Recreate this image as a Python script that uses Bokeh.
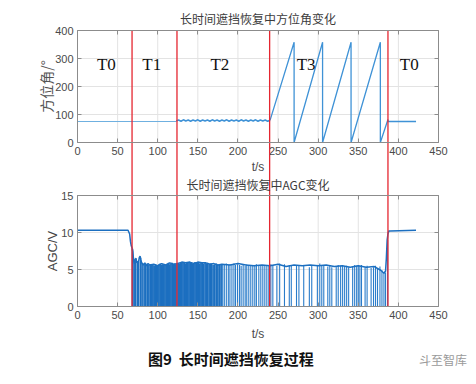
from math import pi
from bokeh.plotting import figure
from bokeh.layouts import column
from bokeh.models import Range1d, FixedTicker, LinearAxis, Div
from bokeh.embed import file_html
from bokeh.resources import INLINE
from bokeh.core.properties import value

# ---------------- data ----------------
x_ticks = [0, 50, 100, 150, 200, 250, 300, 350, 400, 450]
az_ticks = [0, 100, 200, 300, 400]
agc_ticks = [0, 5, 10, 15]

# phase boundaries (s)
red_t = [68, 124, 239.5, 387]

# phase labels
phase_lab = ["T0", "T1", "T2", "T3", "T0"]
phase_x = [36, 92.5, 177.5, 285, 413.5]
phase_y = [280, 280, 280, 280, 280]

# azimuth (deg)
az_t0 = [0, 123]
az_v0 = [75, 75]
az_t2 = [123, 126, 129, 132, 135, 138, 141, 144, 147, 150, 153, 156, 159, 162, 165, 168,
         171, 174, 177, 180, 183, 186, 189, 192, 195, 198, 201, 204, 207, 210, 213, 216,
         219, 222, 225, 228, 231, 234, 237, 240]
az_v2 = [77, 80, 76, 81, 77, 80, 76, 80, 77, 81, 76, 80, 77, 80, 76, 81,
         77, 80, 76, 80, 77, 81, 76, 80, 77, 80, 76, 81, 77, 80, 76, 80,
         77, 81, 76, 80, 77, 80, 76, 79]
az_t3 = [240, 270, 270, 305.5, 305.5, 341, 341, 377.5, 377.5, 387, 387, 422]
az_v3 = [79, 358, 0, 358, 0, 358, 0, 358, 0, 82, 75, 75]

# AGC baseline (V)
agc_pts = [(0, 10.3), (63, 10.3), (65, 9.8), (66, 8.8), (67, 8.2), (68, 7.9), (69, 7.4),
           (70, 6.2), (71, 5.8), (72, 6.4), (73, 6.5), (74, 5.9), (75, 6.1), (76, 6.0),
           (77, 6.6), (78, 6.8), (79, 6.3), (80, 5.9), (82, 5.6), (84, 5.9), (86, 5.5),
           (88, 5.8), (90, 5.6), (95, 5.7), (100, 5.5), (105, 5.8), (110, 5.6), (115, 5.9),
           (120, 5.7), (125, 5.8), (130, 6.0), (135, 5.9), (140, 6.0), (145, 5.8), (150, 6.0),
           (155, 5.9), (160, 5.9), (165, 5.7), (170, 5.8), (175, 5.6), (180, 5.7), (190, 5.6),
           (200, 5.8), (210, 5.6), (220, 5.5), (230, 5.6), (240, 5.5), (250, 5.7), (260, 5.4),
           (270, 5.6), (280, 5.5), (290, 5.6), (300, 5.5), (310, 5.6), (320, 5.4), (330, 5.5),
           (340, 5.3), (350, 5.5), (360, 5.3), (370, 5.4), (378, 4.9), (382, 4.5), (384, 4.8),
           (385, 6.5), (386, 9.0), (387, 9.8), (388, 10.2), (390, 10.2), (422, 10.3)]

# AGC drop-outs to 0 V: (time, level before drop)
spike_pts = [(68.5, 7.8), (70.5, 6.2), (72, 6.4), (74.5, 6.0), (76, 6.0), (78.5, 6.6), (80.5, 5.9),
             (83, 5.8), (85, 5.6), (87, 5.8), (89, 5.6),
             (91, 5.7), (92.5, 5.6), (94, 5.7), (95.5, 5.5), (97, 5.7), (98.5, 5.6), (100, 5.5),
             (101.5, 5.7), (103, 5.8), (104.5, 5.6), (106, 5.7), (107.5, 5.6), (109, 5.7),
             (110.5, 5.6), (112, 5.8), (113.5, 5.9), (115, 5.7), (116.5, 5.8), (118, 5.9),
             (119.5, 5.7), (121, 5.8), (122.5, 5.7), (124, 5.8),
             (125.5, 5.9), (127, 5.8), (128.5, 6.0), (130, 5.9), (131.5, 6.0), (133, 5.9),
             (134.5, 5.8), (136, 6.0), (137.5, 5.9), (139, 6.0), (140.5, 5.9), (142, 6.0),
             (143.5, 5.8), (145, 5.9), (146.5, 6.0), (148, 5.9), (149.5, 6.0), (151, 5.9),
             (152.5, 5.8), (154, 6.0), (155.5, 5.9), (157, 5.8), (159, 5.9), (160.5, 5.8),
             (162, 5.9), (164, 5.7), (165.5, 5.8), (167, 5.8), (169, 5.6), (171, 5.7),
             (173, 5.8), (175, 5.6), (177, 5.7), (179, 5.6),
             (181, 5.7), (183, 5.6), (185.5, 5.8), (188, 5.6), (190, 5.7), (192.5, 5.6),
             (195, 5.8), (197, 5.6), (199.5, 5.7), (202, 5.6), (204, 5.5), (206.5, 5.6),
             (209, 5.5), (211, 5.7), (213.5, 5.6), (216, 5.5), (218.5, 5.6), (221, 5.5),
             (223, 5.7), (226, 5.6), (228.5, 5.5), (231, 5.6), (233.5, 5.5), (236, 5.6),
             (238.5, 5.5),
             (241, 5.7), (243.5, 5.6), (248.5, 5.5), (252, 5.8), (258, 5.7), (264, 5.6),
             (266.5, 5.5), (273, 5.6), (276, 5.5), (282, 5.6), (289, 5.3), (292, 5.5),
             (299, 5.5),
             (302, 5.8), (304.5, 5.6), (307, 5.5), (312, 5.4), (314.5, 5.5),
             (317, 5.3), (322.5, 5.4), (325, 5.6), (328, 5.5), (330.5, 5.6),
             (333, 5.4), (335.5, 5.5), (338, 5.3), (343, 5.4), (345.5, 5.6),
             (348, 5.5), (350, 5.6), (352, 5.5), (354, 5.6), (358.5, 5.3),
             (361, 5.5), (366, 5.2), (369, 5.3), (371.5, 5.5), (374, 5.2),
             (377, 5.4), (379.5, 4.9), (382, 4.6), (384, 4.6), (386.5, 9.0)]

DENSE_END = 180   # drop-outs come almost continuously before this time

agc_t = [a for a, b in agc_pts]
agc_v = [b for a, b in agc_pts]
dense_t = [a for a, b in spike_pts if a < DENSE_END]
dense_top = [b for a, b in spike_pts if a < DENSE_END]
sparse_t = [a for a, b in spike_pts if a >= DENSE_END]
sparse_top = [b for a, b in spike_pts if a >= DENSE_END]

TITLE_TOP = "长时间遮挡恢复中方位角变化"
TITLE_BOTTOM = "长时间遮挡恢复中AGC变化"
YLAB_TOP = "方位角/°"
YLAB_BOTTOM = "AGC/V"
XLAB = "t/s"
CAPTION = "图9&nbsp;&nbsp;长时间遮挡恢复过程"
WATERMARK = "斗至智库"

# ---------------- layout (pixels on the canvas) ----------------
W, H = 460, 342
PX_X0, PX_X450 = 77, 438        # x = 0 s and x = 450 s
PX_AZ0, PX_AZ400 = 142, 30      # top panel y = 0 and 400
PX_AGC0, PX_AGC15 = 306, 195    # bottom panel y = 0 and 15

kx = 450 / (PX_X450 - PX_X0)
k_az = 400 / (PX_AZ0 - PX_AZ400)
k_agc = 15 / (PX_AGC0 - PX_AGC15)


def az_at(py):
    return (PX_AZ0 - py) * k_az


def agc_at(py):
    return (PX_AGC0 - py) * k_agc


def x_at(px):
    return (px - PX_X0) * kx


RED = "#e52630"
BLUE_LIGHT = "#3f92d6"
BLUE = "#1c6fc0"
AX = "#8c8c8c"
GRID = "#e3e3e3"
TXT = "#4a4a4a"
CJK = "Noto Sans CJK SC"

# One canvas holds both panels so that the phase boundaries cross the gap.
# Bottom panel uses the default y range (AGC, V); top panel uses "az".
p = figure(width=W, height=H, x_range=Range1d(x_at(0), x_at(W)),
           y_range=Range1d(agc_at(H), agc_at(0)),
           output_backend="svg", toolbar_location=None, min_border=0)
p.extra_y_ranges = {"az": Range1d(az_at(H), az_at(0))}
p.outline_line_color = None
p.xaxis.visible = False
p.yaxis.visible = False
p.xgrid.visible = False
p.ygrid.visible = False
p.background_fill_color = "white"
p.border_fill_color = "white"


def add_axis(side, ticks, loc, bounds, rng=None, labels=True):
    ax = LinearAxis(fixed_location=loc, bounds=bounds)
    if rng:
        ax.y_range_name = rng
    ax.ticker = FixedTicker(ticks=ticks)
    ax.major_tick_in = 4
    ax.major_tick_out = 0
    ax.minor_tick_line_color = None
    ax.axis_line_color = AX
    ax.major_tick_line_color = AX
    ax.major_label_text_font = "Liberation Sans"
    ax.major_label_text_font_size = "11px"
    ax.major_label_text_color = TXT if labels else None
    ax.major_label_standoff = 4
    p.add_layout(ax, side)
    return ax


# ---- grid lines, one set per panel ----
p.segment(x0=x_ticks, y0=[0] * len(x_ticks), x1=x_ticks, y1=[400] * len(x_ticks),
          y_range_name="az", line_color=GRID, line_width=1, level="underlay")
p.segment(x0=[0] * len(az_ticks), y0=az_ticks, x1=[450] * len(az_ticks), y1=az_ticks,
          y_range_name="az", line_color=GRID, line_width=1, level="underlay")
p.segment(x0=x_ticks, y0=[0] * len(x_ticks), x1=x_ticks, y1=[15] * len(x_ticks),
          line_color=GRID, line_width=1, level="underlay")
p.segment(x0=[0] * len(agc_ticks), y0=agc_ticks, x1=[450] * len(agc_ticks), y1=agc_ticks,
          line_color=GRID, line_width=1, level="underlay")

# ---- axes: bottom panel ----
add_axis("below", x_ticks, 0, (0, 450))
add_axis("left", agc_ticks, 0, (0, 15))
add_axis("above", x_ticks, 15, (0, 450), labels=False)
add_axis("right", agc_ticks, 450, (0, 15), labels=False)
# ---- axes: top panel ----
add_axis("below", x_ticks, 0, (0, 450), rng="az")
add_axis("left", az_ticks, 0, (0, 400), rng="az")
add_axis("above", x_ticks, 400, (0, 450), rng="az", labels=False)
add_axis("right", az_ticks, 450, (0, 400), rng="az", labels=False)

# ---- top panel data ----
p.line(az_t0, az_v0, y_range_name="az", line_color="#6fb0e0", line_width=1.2)
p.line(az_t2, az_v2, y_range_name="az", line_color=BLUE_LIGHT, line_width=1.6)
p.line(az_t3, az_v3, y_range_name="az", line_color=BLUE_LIGHT, line_width=1.3)
p.text(x=phase_x, y=phase_y, text=phase_lab, y_range_name="az",
       text_font=value("Liberation Serif"), text_font_size="17px",
       text_align="center", text_baseline="middle", text_color="#111111")

# ---- bottom panel data ----
p.segment(x0=dense_t, y0=[0] * len(dense_t), x1=dense_t, y1=dense_top,
          line_color=BLUE, line_width=1.7)
p.segment(x0=sparse_t, y0=[0] * len(sparse_t), x1=sparse_t, y1=sparse_top,
          line_color="#2a7cca", line_width=1.1)
p.line(agc_t, agc_v, line_color=BLUE, line_width=1.5)

# ---- phase boundaries across both panels ----
p.segment(x0=red_t, y0=[0] * len(red_t), x1=red_t, y1=[agc_at(PX_AZ400)] * len(red_t),
          line_color=RED, line_width=1.3)

# ---- titles and axis labels ----
p.text(x=[225], y=[az_at(18)], text=[TITLE_TOP], y_range_name="az", text_font=value(CJK),
       text_font_size="12px", text_align="center", text_baseline="middle", text_color="#3c3c3c")
p.text(x=[225], y=[agc_at(184)], text=[TITLE_BOTTOM], text_font=value(CJK),
       text_font_size="12px", text_align="center", text_baseline="middle", text_color="#3c3c3c")
p.text(x=[225], y=[az_at(166)], text=[XLAB], y_range_name="az",
       text_font=value("Liberation Sans"), text_font_size="12px",
       text_align="center", text_baseline="middle", text_color=TXT)
p.text(x=[225], y=[agc_at(333)], text=[XLAB],
       text_font=value("Liberation Sans"), text_font_size="12px",
       text_align="center", text_baseline="middle", text_color=TXT)
p.text(x=[x_at(45)], y=[200], text=[YLAB_TOP], y_range_name="az", angle=pi / 2,
       text_font=value(CJK), text_font_size="14px",
       text_align="center", text_baseline="middle", text_color="#555555")
p.text(x=[x_at(52)], y=[7.5], text=[YLAB_BOTTOM], angle=pi / 2,
       text_font=value("Liberation Sans"), text_font_size="13px",
       text_align="center", text_baseline="middle", text_color="#444444")

caption = Div(text=(
    '<div style="position:relative;width:460px;height:26px;">'
    '<span style="position:absolute;left:143px;top:1px;font-family:\'Noto Sans CJK SC\';'
    'font-size:15px;font-weight:bold;color:#111;white-space:nowrap;">' + CAPTION + '</span>'
    '<span style="position:absolute;left:414px;top:4px;font-family:\'Noto Sans CJK SC\';'
    'font-size:12px;color:#9a9a9a;white-space:nowrap;">' + WATERMARK + '</span></div>'),
    width=W, height=26)

layout = column(p, caption, spacing=0)
open("out.html", "w").write(file_html(layout, INLINE))
